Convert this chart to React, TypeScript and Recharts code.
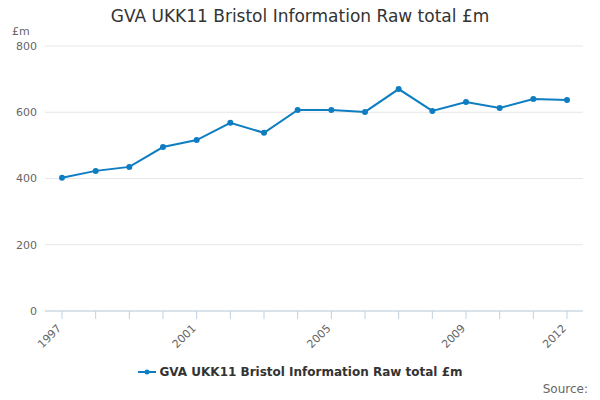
import React from "react";
import { CartesianGrid, Line, LineChart, XAxis, YAxis } from "recharts";

const years = ["1997", "1998", "1999", "2000", "2001", "2002", "2003", "2004", "2005", "2006", "2007", "2008", "2009", "2010", "2011", "2012"];
const values = [402, 423, 435, 495, 516, 568, 538, 607, 607, 601, 670, 604, 631, 613, 640, 637];
const labelledYears = ["1997", "2001", "2005", "2009", "2012"];
const yTicks = [0, 200, 400, 600, 800];

const seriesName = "GVA UKK11 Bristol Information Raw total £m";
const color = "#0e7dc2";
const font = "'DejaVu Sans', sans-serif";

const rows = years.map((year, i) => ({ year, value: values[i] }));

function YearTick(props: any) {
  const { x, y, payload } = props;
  if (!labelledYears.includes(payload.value)) return null;
  return (
    <text x={x} y={y + 8} transform={`rotate(-45 ${x} ${y + 8})`} textAnchor="end" fill="#666" fontSize={11} fontFamily={font}>
      {payload.value}
    </text>
  );
}

export default function App() {
  return (
    <div style={{ position: "absolute", top: 0, left: 0, width: 600, height: 400, background: "#fff", fontFamily: font }}>
      <div style={{ position: "absolute", top: 6, width: 600, textAlign: "center", fontSize: 17, color: "#333" }}>
        GVA UKK11 Bristol Information Raw total £m
      </div>
      <div style={{ position: "absolute", top: 25, left: 12, fontSize: 11, color: "#666" }}>£m</div>
      <LineChart width={600} height={400} data={rows} margin={{ top: 46, right: 17, bottom: 49, left: 0 }}>
        <CartesianGrid stroke="#e6e6e6" vertical={false} />
        <XAxis
          dataKey="year"
          interval={0}
          padding={{ left: 17, right: 16 }}
          height={40}
          stroke="#c0d0e0"
          tickSize={8}
          tick={<YearTick />}
        />
        <YAxis
          domain={[0, 800]}
          ticks={yTicks}
          width={45}
          axisLine={false}
          tickLine={false}
          tick={{ fill: "#666", fontSize: 11, fontFamily: font }}
        />
        <Line dataKey="value" stroke={color} strokeWidth={2} dot={{ r: 2, fill: color, stroke: color }} isAnimationActive={false} />
      </LineChart>
      <div style={{ position: "absolute", top: 365, width: 600, display: "flex", justifyContent: "center", alignItems: "center", fontSize: 12, fontWeight: "bold", color: "#333" }}>
        <svg width={18} height={10} style={{ marginRight: 4 }}>
          <line x1={0} y1={5} x2={18} y2={5} stroke={color} strokeWidth={2} />
          <circle cx={9} cy={5} r={2.5} fill={color} />
        </svg>
        {seriesName}
      </div>
      <div style={{ position: "absolute", top: 382, right: 12, fontSize: 12, color: "#666" }}>Source:</div>
    </div>
  );
}
